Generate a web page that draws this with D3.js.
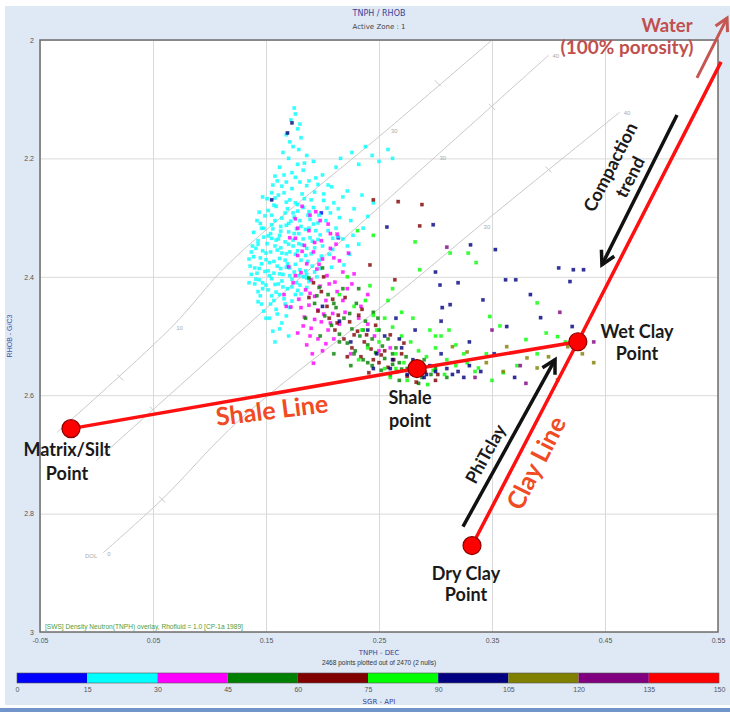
<!DOCTYPE html>
<html>
<head>
<meta charset="utf-8">
<script src="https://cdn.jsdelivr.net/npm/d3@7"></script>
<style>
  body { margin: 0; background: #fff; }
  svg { display: block; }
  .small { font-family: "Liberation Sans", Arial, sans-serif; font-size: 7px; fill: #555; }
  .head { font-family: "DejaVu Sans", sans-serif; }
  .note { font-family: Lato, "Open Sans", sans-serif; font-weight: 700; }
</style>
</head>
<body>
<div id="chart"></div>
<script>
// ---- axes / legend ----
const xTicks = [-0.05, 0.05, 0.15, 0.25, 0.35, 0.45, 0.55];
const xTickLabels = ['-0.05', '0.05', '0.15', '0.25', '0.35', '0.45', '0.55'];
const yTicks = [2, 2.2, 2.4, 2.6, 2.8, 3];
const yTickLabels = ['2', '2.2', '2.4', '2.6', '2.8', '3'];
const grBreaks = [0, 15, 30, 45, 60, 75, 90, 105, 120, 135, 150];
const grColors = ['#0000ff', '#00ffff', '#ff00ff', '#008000', '#800000', '#00ff00', '#000080', '#808000', '#800080', '#ff0000'];

// ---- CP-1a lithology lines (TNPH, RHOB) ----
const sandstone = [[-0.035, 2.663], [0.067, 2.484], [0.118, 2.376], [0.257, 2.152], [0.35, 2.0]];
const limestone = [[0, 2.71], [0.1, 2.539], [0.2, 2.368], [0.3, 2.197], [0.4, 2.026]];
const dolomite = [[0.006, 2.866], [0.058, 2.776], [0.127, 2.641], [0.269, 2.425], [0.339, 2.314], [0.463, 2.122]];
const porosityLabels = [['10', 0.067, 2.484], ['30', 0.257, 2.152], ['30', 0.3, 2.197], ['40', 0.4, 2.026], ['30', 0.339, 2.314], ['40', 0.463, 2.122], ['0', 0.006, 2.866]];
const porosityTicks = [[0.021, 2.57], [0.05, 2.6245], [0.058, 2.776], [0.302, 2.073], [0.35, 2.113], [0.4, 2.219]];

// ---- crossplot points, one list per SGR class ----
const ptsCyan = [
  [0.175,2.115],[0.172,2.135],[0.178,2.15],[0.168,2.16],[0.181,2.165],[0.174,2.18],[0.165,2.19],[0.186,2.195],[0.17,2.2],[0.178,2.21],
  [0.162,2.215],[0.183,2.22],[0.192,2.205],[0.158,2.23],[0.176,2.232],[0.188,2.238],[0.168,2.24],[0.2,2.228],[0.205,2.245],[0.212,2.215],
  [0.226,2.19],[0.238,2.18],[0.244,2.195],[0.25,2.205],[0.232,2.21],[0.216,2.2],[0.222,2.255],[0.235,2.262],[0.245,2.275],[0.228,2.285],
  [0.258,2.185],[0.262,2.2],
  [0.161,2.262],[0.173,2.251],[0.184,2.268],[0.157,2.279],[0.192,2.283],[0.168,2.274],[0.149,2.297],[0.178,2.289],[0.201,2.271],[0.164,2.301],
  [0.187,2.296],[0.155,2.312],[0.172,2.306],[0.196,2.309],[0.146,2.318],[0.181,2.315],[0.163,2.323],[0.207,2.292],[0.152,2.331],[0.175,2.327],
  [0.189,2.334],[0.143,2.339],[0.167,2.341],[0.198,2.329],[0.158,2.348],[0.182,2.346],[0.147,2.356],[0.171,2.358],[0.193,2.351],[0.139,2.366],
  [0.162,2.369],[0.185,2.364],[0.153,2.376],[0.176,2.379],[0.144,2.386],[0.168,2.384],[0.191,2.382],[0.157,2.394],[0.179,2.398],[0.141,2.404],
  [0.164,2.407],[0.186,2.402],[0.15,2.414],[0.173,2.417],[0.159,2.426],[0.145,2.432],[0.181,2.429],[0.166,2.437],[0.154,2.446],[0.171,2.452],
  [0.16,2.463],[0.148,2.458],[0.164,2.478],[0.156,2.492],[0.169,2.285],[0.18,2.305],[0.159,2.338],[0.176,2.362],[0.15,2.371],[0.187,2.374],
  [0.165,2.396],[0.142,2.394],[0.177,2.41],[0.155,2.403],[0.17,2.324],[0.185,2.32],[0.16,2.355],[0.2,2.348],[0.212,2.318],[0.206,2.362],
  [0.215,2.3],[0.138,2.348],[0.152,2.288],[0.164,2.247],[0.193,2.257],[0.146,2.378],[0.174,2.292],[0.183,2.336],[0.161,2.412],[0.173,2.441],
  [0.136,2.382],[0.158,2.267],[0.189,2.303],[0.168,2.361],[0.179,2.344],[0.154,2.327],[0.198,2.386],[0.218,2.336],[0.224,2.362],[0.147,2.42],
  [0.162,2.43],[0.14,2.412],[0.171,2.398],[0.186,2.418],[0.195,2.4],[0.208,2.384],
  [0.166,2.258],[0.178,2.278],[0.19,2.27],[0.155,2.296],[0.163,2.315],[0.177,2.319],[0.194,2.322],[0.148,2.333],[0.161,2.336],[0.174,2.338],
  [0.186,2.352],[0.141,2.352],[0.154,2.358],[0.167,2.372],[0.18,2.388],[0.149,2.391],[0.16,2.382],[0.173,2.404],[0.152,2.422],[0.165,2.417],
  [0.178,2.423],[0.157,2.44],[0.168,2.466],[0.153,2.47],[0.144,2.405],[0.135,2.37],[0.137,2.396],[0.188,2.29],[0.203,2.305],[0.199,2.365],
  [0.209,2.335],[0.185,2.39],[0.158,2.305],[0.171,2.27],[0.182,2.26],[0.145,2.31],[0.17,2.345],[0.162,2.395],[0.191,2.34],[0.176,2.43],
  [0.15,2.36],[0.188,2.408],[0.143,2.425],[0.219,2.38],[0.227,2.33],[0.232,2.345],[0.21,2.275],[0.196,2.244],[0.18,2.24],[0.156,2.245],
  [0.151,2.268],[0.159,2.281],[0.167,2.292],[0.175,2.299],[0.183,2.283],[0.197,2.296],[0.204,2.284],[0.144,2.291],[0.139,2.325],[0.156,2.319],
  [0.168,2.313],[0.179,2.327],[0.192,2.311],[0.205,2.322],[0.214,2.332],[0.143,2.345],[0.151,2.344],[0.163,2.351],[0.174,2.348],[0.19,2.361],
  [0.197,2.372],[0.209,2.354],[0.137,2.358],[0.145,2.368],[0.157,2.374],[0.169,2.378],[0.181,2.372],[0.193,2.392],[0.14,2.385],[0.152,2.39],
  [0.163,2.386],[0.175,2.392],[0.186,2.396],[0.147,2.41],[0.158,2.413],[0.169,2.42],[0.18,2.414],[0.143,2.442],[0.155,2.432],[0.167,2.446],
  [0.159,2.455],[0.15,2.47],[0.162,2.488],[0.17,2.5],[0.158,2.51],[0.176,2.275],[0.186,2.246],[0.173,2.224],[0.16,2.238],[0.184,2.208],
  [0.179,2.185],[0.171,2.172],[0.176,2.125],[0.18,2.142],[0.218,2.265],[0.225,2.305],[0.236,2.318],[0.24,2.298],[0.214,2.285],[0.222,2.348],
  [0.148,2.318],[0.155,2.335],[0.171,2.385],[0.164,2.36],[0.178,2.356],[0.153,2.398],[0.146,2.446],[0.135,2.41],[0.188,2.318],[0.196,2.337],
  [0.201,2.26],[0.208,2.248],[0.194,2.233],[0.166,2.228],[0.155,2.258],[0.147,2.265],[0.142,2.305],[0.17,2.31],[0.162,2.33],[0.183,2.4]
];
const ptsMagenta = [
  [0.182,2.281],[0.194,2.29],[0.176,2.302],[0.205,2.311],[0.188,2.322],[0.171,2.334],[0.199,2.339],[0.213,2.328],[0.184,2.347],[0.192,2.358],
  [0.207,2.352],[0.178,2.364],[0.2,2.37],[0.186,2.378],[0.215,2.373],[0.195,2.387],[0.181,2.393],[0.204,2.398],[0.19,2.405],[0.174,2.41],
  [0.198,2.416],[0.211,2.409],[0.185,2.422],[0.193,2.433],[0.179,2.438],[0.203,2.44],[0.188,2.448],[0.196,2.456],[0.172,2.451],[0.209,2.462],
  [0.184,2.468],[0.199,2.476],[0.19,2.487],[0.178,2.495],[0.205,2.49],[0.196,2.505],[0.186,2.515],[0.2,2.525],[0.222,2.42],[0.218,2.44],
  [0.228,2.395],[0.166,2.43],[0.17,2.383],[0.212,2.345],[0.223,2.36],[0.24,2.43],[0.232,2.47],[0.21,2.505],[0.246,2.5],[0.225,2.53],
  [0.26,2.52],[0.278,2.555],[0.192,2.546],[0.215,2.48],
  [0.189,2.296],[0.198,2.305],[0.178,2.318],[0.207,2.327],[0.193,2.342],[0.182,2.357],[0.21,2.368],[0.197,2.379],[0.176,2.398],[0.206,2.412],
  [0.189,2.428],[0.213,2.425],[0.181,2.452],[0.201,2.463],[0.193,2.472],[0.183,2.483],[0.207,2.478],[0.189,2.5],[0.203,2.513],[0.191,2.53],
  [0.218,2.392],[0.226,2.412],[0.234,2.45],[0.22,2.46],[0.176,2.335],[0.168,2.45],[0.24,2.48],[0.25,2.525]
];
const ptsGreen = [
  [0.188,2.402],[0.197,2.418],[0.205,2.43],[0.193,2.445],[0.212,2.452],[0.202,2.466],[0.219,2.47],[0.208,2.482],[0.226,2.488],[0.215,2.497],
  [0.233,2.5],[0.222,2.512],[0.24,2.515],[0.229,2.525],[0.247,2.528],[0.236,2.54],[0.255,2.538],[0.244,2.55],[0.262,2.548],[0.252,2.558],
  [0.27,2.556],[0.26,2.566],[0.28,2.562],[0.288,2.57],[0.218,2.42],[0.23,2.445],[0.2,2.385],[0.238,2.475],[0.25,2.49],[0.265,2.52],
  [0.274,2.535],[0.21,2.53],[0.225,2.55],[0.3,2.555],[0.245,2.46],[0.258,2.505],[0.198,2.5],[0.185,2.47],[0.29,2.54],[0.268,2.575],
  [0.195,2.432],[0.21,2.445],[0.224,2.462],[0.236,2.49],[0.244,2.505],[0.253,2.517],[0.268,2.545],[0.281,2.553],[0.296,2.565],[0.215,2.51],
  [0.228,2.53],[0.24,2.545],[0.262,2.53],[0.249,2.47],[0.275,2.555],[0.232,2.42],[0.31,2.57],[0.285,2.58]
];
const ptsMaroon = [
  [0.192,2.41],[0.201,2.4],[0.209,2.438],[0.196,2.458],[0.214,2.465],[0.224,2.476],[0.211,2.49],[0.231,2.492],[0.219,2.505],[0.237,2.51],
  [0.226,2.52],[0.243,2.522],[0.234,2.535],[0.25,2.545],[0.258,2.553],[0.241,2.562],[0.266,2.56],[0.275,2.568],[0.283,2.578],[0.204,2.45],
  [0.22,2.435],[0.235,2.455],[0.247,2.482],[0.26,2.498],[0.272,2.512],[0.255,2.525],[0.188,2.435],[0.302,2.565],[0.242,2.38],[0.264,2.405],
  [0.245,2.27],[0.267,2.273],[0.288,2.278],[0.286,2.314],
  [0.199,2.425],[0.213,2.478],[0.228,2.498],[0.239,2.498],[0.252,2.532],[0.263,2.54],[0.278,2.552],[0.291,2.56],[0.206,2.47],[0.222,2.535],
  [0.245,2.54],[0.27,2.53],[0.3,2.575],[0.232,2.465]
];
const ptsLime = [
  [0.313,2.36],[0.329,2.36],[0.336,2.376],[0.282,2.341],[0.286,2.388],[0.348,2.467],[0.357,2.483],[0.39,2.444],[0.38,2.506],[0.408,2.501],
  [0.36,2.562],[0.338,2.554],[0.293,2.582],[0.231,2.322],[0.245,2.33],
  [0.215,2.43],[0.228,2.45],[0.238,2.44],[0.245,2.465],[0.255,2.47],[0.262,2.485],[0.27,2.5],[0.278,2.51],[0.285,2.525],[0.292,2.535],
  [0.25,2.51],[0.265,2.53],[0.272,2.545],[0.3,2.52],[0.31,2.54],[0.235,2.49],[0.242,2.415],[0.258,2.44],[0.222,2.4],[0.28,2.47],
  [0.295,2.49],[0.305,2.5],[0.318,2.515],[0.325,2.53],[0.24,2.52],[0.255,2.555],[0.232,2.54],[0.26,2.57],[0.28,2.56],
  [0.29,2.55],[0.298,2.558],[0.308,2.565],[0.318,2.55],[0.328,2.545],[0.335,2.56],[0.345,2.53],[0.265,2.555],[0.275,2.575],[0.248,2.49],
  [0.3,2.5],[0.312,2.49],[0.27,2.46],[0.262,2.42],[0.35,2.575],[0.372,2.55],[0.39,2.53],[0.415,2.51],[0.398,2.495]
];
const ptsNavy = [
  [0.173,2.14],[0.169,2.157],[0.155,2.27],[0.257,2.316],[0.298,2.312],[0.331,2.346],[0.353,2.354],[0.3,2.392],[0.304,2.414],[0.32,2.41],
  [0.362,2.405],[0.371,2.405],[0.409,2.385],[0.422,2.388],[0.431,2.388],[0.419,2.408],[0.342,2.439],[0.384,2.43],[0.393,2.469],[0.313,2.447],
  [0.306,2.452],[0.363,2.484],[0.421,2.484],
  [0.255,2.5],[0.27,2.52],[0.262,2.54],[0.285,2.55],[0.3,2.56],[0.292,2.565],[0.31,2.555],[0.32,2.56],[0.275,2.565],[0.248,2.53],
  [0.282,2.49],[0.265,2.47],[0.305,2.53],[0.33,2.55],[0.245,2.555],[0.225,2.51],[0.215,2.475],[0.2,2.45],
  [0.26,2.555],[0.28,2.54],[0.295,2.55],[0.315,2.565],[0.325,2.57],[0.34,2.56],[0.29,2.57],[0.268,2.505],[0.305,2.475],[0.33,2.51],
  [0.352,2.53],[0.37,2.57],[0.24,2.49]
];
const ptsOlive = [
  [0.315,2.518],[0.328,2.527],[0.381,2.537],[0.363,2.518],[0.4,2.535],[0.417,2.518],[0.408,2.574],[0.39,2.554],[0.345,2.545],[0.36,2.56],
  [0.43,2.53],[0.44,2.545]
];
const ptsPurple = [[0.38,2.58],[0.35,2.49],[0.375,2.55],[0.335,2.57],[0.31,2.35],[0.41,2.46],[0.44,2.51]];
const ptsBlue = [[0.199,2.292],[0.214,2.334]];

// ---- interpretation points (TNPH, RHOB) ----
const matrixPt = [-0.0226, 2.6565];
const shalePt = [0.2836, 2.555];
const wetClayPt = [0.426, 2.5097];
const dryClayPt = [0.3323, 2.854];
const clayLineEnd = [0.5527, 2.037];
const waterArrow = [[0.5314, 2.064], [0.558, 1.963]];
const compactionArrow = [[0.5137, 2.1266], [0.4473, 2.3797]];
const phitArrow = [[0.3243, 2.822], [0.4058, 2.540]];

// ---------------------------------------------------------------
const W = 730, H = 712;
const x = d3.scaleLinear().domain([-0.05, 0.55]).range([40, 718]);
const y = d3.scaleLinear().domain([2, 3]).range([40, 632]);
const gr = d3.scaleLinear().domain([0, 150]).range([17, 719]);
const grColor = d3.scaleThreshold().domain(grBreaks.slice(1, -1)).range(grColors);

const svg = d3.select('#chart').append('svg').attr('width', W).attr('height', H);

// panel background
svg.append('rect').attr('x', 5).attr('y', 6).attr('width', W - 5).attr('height', 699).attr('fill', '#dfe9f5');
svg.append('rect').attr('x', 0).attr('y', 708).attr('width', W).attr('height', 4).attr('fill', '#7194cb');

// titles
svg.append('text').attr('class', 'head').attr('x', 379).attr('y', 16).attr('text-anchor', 'middle')
  .attr('font-size', 8).attr('fill', '#3b3f95').text('TNPH / RHOB');
svg.append('text').attr('class', 'head').attr('x', 379).attr('y', 29).attr('text-anchor', 'middle')
  .attr('font-size', 7).attr('fill', '#444').text('Active Zone : 1');

// plot area
const plotW = x(0.55) - x(-0.05), plotH = y(3) - y(2);
svg.append('rect').attr('x', x(-0.05)).attr('y', y(2)).attr('width', plotW).attr('height', plotH).attr('fill', '#fff');

// grid + tick labels via axes
const xAxis = svg.append('g').attr('transform', `translate(0,${y(3)})`)
  .call(d3.axisBottom(x).tickValues(xTicks).tickSize(-plotH).tickPadding(6).tickFormat((d, i) => xTickLabels[i]));
const yAxis = svg.append('g').attr('transform', `translate(${x(-0.05)},0)`)
  .call(d3.axisLeft(y).tickValues(yTicks).tickSize(-plotW).tickPadding(6).tickFormat((d, i) => yTickLabels[i]));
[xAxis, yAxis].forEach(a => {
  a.select('.domain').remove();
  a.selectAll('.tick line').attr('stroke', '#d9d9d9');
  a.selectAll('.tick text').attr('class', 'small').attr('font-size', null).attr('font-family', null).attr('fill', null);
});

svg.append('text').attr('class', 'small').attr('transform', `translate(12,${y(2.5)}) rotate(-90)`)
  .attr('text-anchor', 'middle').style('fill', '#4a55a8').text('RHOB - G/C3');

// lithology lines
const line = d3.line().x(d => x(d[0])).y(d => y(d[1])).curve(d3.curveCatmullRom);
const litho = svg.append('g').attr('fill', 'none').attr('stroke', '#c9c9c9').attr('stroke-width', 1);
[sandstone, limestone, dolomite].forEach(l => litho.append('path').attr('d', line(l)));
litho.selectAll('.ptick').data(porosityTicks).join('line')
  .attr('x1', d => x(d[0]) - 3).attr('y1', d => y(d[1]) - 3)
  .attr('x2', d => x(d[0]) + 3).attr('y2', d => y(d[1]) + 3);
svg.selectAll('.plabel').data(porosityLabels).join('text')
  .attr('x', d => x(d[1]) + 4).attr('y', d => y(d[2]) + 3)
  .attr('font-family', 'Liberation Sans, sans-serif').attr('font-size', 6).attr('fill', '#aaa')
  .text(d => d[0]);
svg.append('text').attr('x', x(dolomite[0][0]) - 6).attr('y', y(dolomite[0][1]) + 5).attr('text-anchor', 'end')
  .attr('font-family', 'Liberation Sans, sans-serif').attr('font-size', 6).attr('fill', '#aaa').text('DOL');

// points
const series = [[7, ptsBlue], [22, ptsCyan], [37, ptsMagenta], [52, ptsGreen], [67, ptsMaroon],
  [82, ptsLime], [97, ptsNavy], [112, ptsOlive], [127, ptsPurple]];
const dots = svg.append('g');
series.forEach(([v, pts]) => {
  dots.append('g').selectAll('rect').data(pts).join('rect')
    .attr('x', d => x(d[0]) - 1.6).attr('y', d => y(d[1]) - 1.6)
    .attr('width', 3.2).attr('height', 3.2)
    .attr('fill', grColor(v)).attr('fill-opacity', 0.8)
    .attr('stroke', grColor(v)).attr('stroke-width', 0.6).attr('stroke-opacity', 0.45);
});

svg.append('text').attr('x', 45).attr('y', 629).attr('font-family', 'Liberation Sans, sans-serif')
  .attr('font-size', 6.6).attr('fill', '#4e9d3c')
  .text('[SWS] Density Neutron(TNPH) overlay, Rhofluid = 1.0 [CP-1a 1989]');

// plot frame
svg.append('rect').attr('x', x(-0.05)).attr('y', y(2)).attr('width', plotW).attr('height', plotH)
  .attr('fill', 'none').attr('stroke', '#6d6d6d').attr('stroke-width', 1.5);

// bottom titles and SGR colour bar
svg.append('text').attr('class', 'head').attr('x', 379).attr('y', 655).attr('text-anchor', 'middle')
  .attr('font-size', 7).attr('fill', '#3b3f95').text('TNPH - DEC');
svg.append('text').attr('class', 'small').attr('x', 379).attr('y', 665).attr('text-anchor', 'middle')
  .style('fill', '#333').style('font-size', '6.5px').text('2468 points plotted out of 2470 (2 nulls)');

const bar = svg.append('g');
bar.selectAll('rect').data(grColors).join('rect')
  .attr('x', (d, i) => gr(grBreaks[i])).attr('y', 673)
  .attr('width', (d, i) => gr(grBreaks[i + 1]) - gr(grBreaks[i])).attr('height', 10)
  .attr('fill', d => d);
bar.append('rect').attr('x', gr(0)).attr('y', 673).attr('width', gr(150) - gr(0)).attr('height', 10)
  .attr('fill', 'none').attr('stroke', '#555').attr('stroke-width', 0.6);
const barAxis = svg.append('g').attr('transform', 'translate(0,683)')
  .call(d3.axisBottom(gr).tickValues(grBreaks).tickSize(0).tickPadding(4));
barAxis.select('.domain').remove();
barAxis.selectAll('.tick text').attr('class', 'small').attr('font-size', null).attr('font-family', null).attr('fill', null);
svg.append('text').attr('class', 'head').attr('x', 379).attr('y', 704).attr('text-anchor', 'middle')
  .attr('font-size', 7).attr('fill', '#3b3f95').text('SGR - API');

// ---- interpretation overlay ----
const ann = svg.append('g');
const pline = d3.line().x(d => x(d[0])).y(d => y(d[1]));

function drawArrow(g, from, to, color, width, headLen) {
  const x0 = x(from[0]), y0 = y(from[1]), x1 = x(to[0]), y1 = y(to[1]);
  const a = Math.atan2(y1 - y0, x1 - x0);
  g.append('line').attr('x1', x0).attr('y1', y0).attr('x2', x1).attr('y2', y1)
    .attr('stroke', color).attr('stroke-width', width);
  const head = [
    [x1 - headLen * Math.cos(a - 0.5), y1 - headLen * Math.sin(a - 0.5)],
    [x1, y1],
    [x1 - headLen * Math.cos(a + 0.5), y1 - headLen * Math.sin(a + 0.5)]
  ];
  g.append('path').attr('d', d3.line()(head)).attr('fill', 'none').attr('stroke', color)
    .attr('stroke-width', width).attr('stroke-linejoin', 'miter');
}

ann.append('path').attr('d', pline([matrixPt, shalePt, wetClayPt]))
  .attr('fill', 'none').attr('stroke', '#ff1010').attr('stroke-width', 3.5);
ann.append('path').attr('d', pline([dryClayPt, wetClayPt, clayLineEnd]))
  .attr('fill', 'none').attr('stroke', '#ff1010').attr('stroke-width', 3.5);

drawArrow(ann, waterArrow[0], waterArrow[1], '#c55652', 3, 14);
drawArrow(ann, compactionArrow[0], compactionArrow[1], '#111', 3.5, 15);
drawArrow(ann, phitArrow[0], phitArrow[1], '#111', 3.5, 15);

ann.selectAll('circle').data([matrixPt, shalePt, wetClayPt, dryClayPt]).join('circle')
  .attr('cx', d => x(d[0])).attr('cy', d => y(d[1])).attr('r', 9)
  .attr('fill', '#ff0000').attr('stroke', '#8a0000').attr('stroke-width', 1.2);

function note(lines, px, py, size, color, angle, lineGap) {
  const t = ann.append('text').attr('class', 'note')
    .attr('transform', `translate(${px},${py}) rotate(${angle || 0})`)
    .attr('text-anchor', 'middle').attr('font-size', size).attr('fill', color);
  lines.forEach((s, i) => t.append('tspan').attr('x', 0).attr('y', i * (lineGap || size * 1.4)).text(s));
}

note(['Water'], 667, 32, 18.5, '#c0504d');
note(['(100% porosity)'], 627, 54, 19, '#c0504d');
note(['Compaction', 'trend'], 616, 170, 18, '#1a1a1a', -63, 22);
note(['Wet Clay', 'Point'], 637, 338, 18, '#1a1a1a', 0, 22);
note(['Shale', 'point'], 410, 404, 18, '#1a1a1a', 0, 23);
note(['Matrix/Silt', 'Point'], 67, 456, 18, '#1a1a1a', 0, 24);
note(['Dry Clay', 'Point'], 466, 580, 18, '#1a1a1a', 0, 21);
note(['PhiTclay'], 491, 457, 17.5, '#1a1a1a', -61);
note(['Shale Line'], 273, 419, 25, '#f04b23', -7);
note(['Clay Line'], 544, 467, 25, '#f04b23', -63);
</script>
</body>
</html>
